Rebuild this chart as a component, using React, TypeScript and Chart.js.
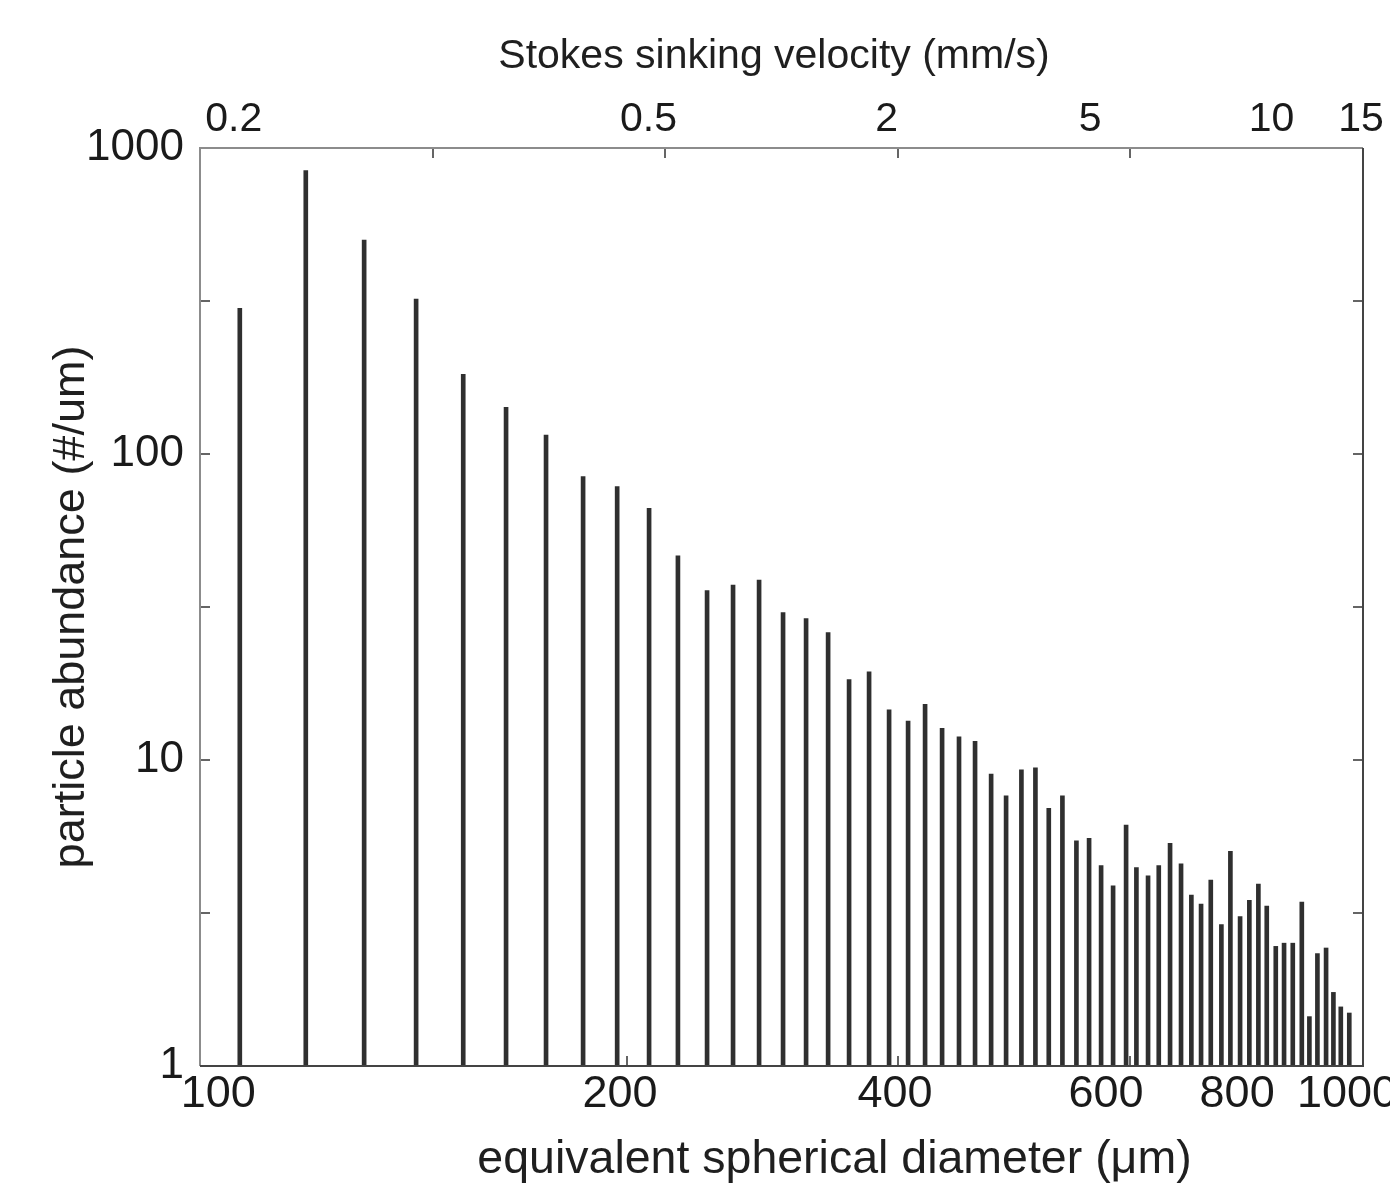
import React, { useEffect, useRef } from 'react';
import { Chart, registerables } from 'chart.js';

Chart.register(...registerables);

// equivalent spherical diameter of each size bin (µm)
const DIAMETERS = [
  108.2, 123.3, 138.4, 153.4, 168.4, 183.3, 198.4, 213.5, 228.4, 243.3,
  257.6, 272.9, 287.3, 302.5, 317.2, 332.0, 346.8, 361.5, 376.1, 391.3,
  406.3, 420.2, 434.6, 449.4, 463.9, 478.9, 493.3, 508.5, 522.8, 536.8,
  551.5, 567.0, 581.4, 595.4, 609.7, 625.6, 638.5, 653.4, 667.4, 682.5,
  697.5, 711.9, 725.7, 739.8, 755.5, 769.1, 784.0, 798.5, 812.9, 826.5,
  841.4, 855.3, 870.2, 885.9, 899.3, 913.7, 929.5, 943.1, 957.0, 973.2,
];

// particle abundance (#/um)
const ABUNDANCE = [
  299, 843, 500, 321, 182, 142, 115.4, 84.3, 78.2, 66.5,
  46.5, 35.8, 37.3, 38.7, 30.3, 29.0, 26.1, 18.3, 19.4, 14.6,
  13.4, 15.2, 12.7, 11.9, 11.5, 9.0, 7.63, 9.28, 9.42, 6.95,
  7.63, 5.44, 5.55, 4.52, 3.88, 6.13, 4.45, 4.18, 4.52, 5.34,
  4.58, 3.62, 3.38, 4.05, 2.90, 5.03, 3.08, 3.48, 3.93, 3.33,
  2.46, 2.52, 2.52, 3.43, 1.45, 2.33, 2.43, 1.74, 1.56, 1.49,
];

// bottom axis: labels and the diameters they sit at, plus tick marks
const BOTTOM_TICK_LABELS = ['100', '200', '400', '600', '800', '1000'];
const BOTTOM_LABEL_AT = [103.7, 229.7, 395.9, 601.2, 779.4, 968.8];
const BOTTOM_TICK_MARKS = [232.8, 398.1, 631.0];

// top axis: Stokes sinking velocity labels and the diameters they sit at
const TOP_TICK_LABELS = ['0.2', '0.5', '2', '5', '10', '15'];
const TOP_LABEL_AT = [106.9, 243.0, 389.4, 582.6, 834.4, 996.0];
const TOP_TICK_MARKS = [158.5, 251.2, 398.1, 631.0];

// y axis
const Y_TICK_LABELS = [1, 10, 100, 1000];
const Y_TICK_MARKS = [3.162, 10, 31.62, 100, 316.2];

const FONT = "'Liberation Sans', Arial, Helvetica, sans-serif";
const W = 1390;
const H = 1192;
const AREA = { left: 200, right: 1363, top: 148, bottom: 1066 };

const framePlugin = {
  id: 'frame',
  afterDraw(chart: any) {
    const { ctx, chartArea: a, scales } = chart;
    const xs = scales.x;
    const xt = scales.x2;
    const ys = scales.y;
    const len = 10;
    ctx.save();
    ctx.strokeStyle = '#333333';
    ctx.lineWidth = 1.5;
    ctx.beginPath();
    Y_TICK_MARKS.forEach((v) => {
      const py = Math.round(ys.getPixelForValue(v));
      ctx.moveTo(a.left, py);
      ctx.lineTo(a.left + len, py);
      ctx.moveTo(a.right, py);
      ctx.lineTo(a.right - len, py);
    });
    TOP_TICK_MARKS.forEach((v) => {
      const px = Math.round(xt.getPixelForValue(v));
      ctx.moveTo(px, a.top);
      ctx.lineTo(px, a.top + len);
    });
    BOTTOM_TICK_MARKS.forEach((v) => {
      const px = Math.round(xs.getPixelForValue(v));
      ctx.moveTo(px, a.bottom);
      ctx.lineTo(px, a.bottom - len);
    });
    ctx.stroke();

    // frame: left/top lighter, bottom/right darker
    ctx.lineWidth = 2;
    ctx.strokeStyle = '#8c8c8c';
    ctx.beginPath();
    ctx.moveTo(a.left, a.bottom);
    ctx.lineTo(a.left, a.top);
    ctx.lineTo(a.right, a.top);
    ctx.stroke();
    ctx.strokeStyle = '#444444';
    ctx.beginPath();
    ctx.moveTo(a.left, a.bottom);
    ctx.lineTo(a.right, a.bottom);
    ctx.lineTo(a.right, a.top);
    ctx.stroke();

    // axis titles placed off-centre as in the reference
    ctx.fillStyle = '#1f1f1f';
    ctx.textAlign = 'center';
    ctx.textBaseline = 'alphabetic';
    ctx.font = `46.5px ${FONT}`;
    ctx.fillText('equivalent spherical diameter (\u03BCm)', 834.5, 1173);
    ctx.font = `41px ${FONT}`;
    ctx.fillText('Stokes sinking velocity (mm/s)', 774, 68);
    ctx.restore();
  },
};

export default function App() {
  const ref = useRef<HTMLCanvasElement | null>(null);

  useEffect(() => {
    if (!ref.current) return;
    const chart = new Chart(ref.current, {
      type: 'bar',
      data: {
        datasets: [
          {
            data: DIAMETERS.map((d, i) => ({ x: d, y: ABUNDANCE[i] })),
            backgroundColor: '#2f2f2f',
            borderWidth: 0,
            barThickness: 4,
            xAxisID: 'x',
            yAxisID: 'y',
          } as any,
        ],
      },
      options: {
        animation: false,
        responsive: false,
        devicePixelRatio: 1,
        layout: { padding: { left: 0, top: 0, right: W - AREA.right, bottom: 0 } },
        plugins: { legend: { display: false }, tooltip: { enabled: false } },
        scales: {
          x: {
            type: 'logarithmic',
            position: 'bottom',
            min: 100,
            max: 1000,
            offset: false,
            grid: { display: false, drawTicks: false },
            border: { display: false },
            afterBuildTicks: (s: any) => {
              s.ticks = BOTTOM_LABEL_AT.map((v) => ({ value: v }));
            },
            afterFit: (s: any) => {
              s.height = H - AREA.bottom;
              s.paddingLeft = 0;
              s.paddingRight = 0;
            },
            ticks: {
              autoSkip: false,
              maxRotation: 0,
              minRotation: 0,
              padding: 2,
              color: '#1a1a1a',
              font: { size: 45, family: FONT },
              callback: (_v: any, i: number) => BOTTOM_TICK_LABELS[i],
            },
          },
          x2: {
            type: 'logarithmic',
            position: 'top',
            min: 100,
            max: 1000,
            offset: false,
            grid: { display: false, drawTicks: false },
            border: { display: false },
            afterBuildTicks: (s: any) => {
              s.ticks = TOP_LABEL_AT.map((v) => ({ value: v }));
            },
            afterFit: (s: any) => {
              s.height = AREA.top;
              s.paddingLeft = 0;
              s.paddingRight = 0;
            },
            ticks: {
              autoSkip: false,
              maxRotation: 0,
              minRotation: 0,
              padding: 4,
              color: '#1a1a1a',
              font: { size: 41, family: FONT },
              callback: (_v: any, i: number) => TOP_TICK_LABELS[i],
            },
          },
          y: {
            type: 'logarithmic',
            position: 'left',
            min: 1,
            max: 1000,
            beginAtZero: false,
            grid: { display: false, drawTicks: false },
            border: { display: false },
            afterBuildTicks: (s: any) => {
              s.ticks = Y_TICK_LABELS.map((v) => ({ value: v }));
            },
            afterFit: (s: any) => {
              s.width = AREA.left;
              s.paddingTop = 0;
              s.paddingBottom = 0;
            },
            ticks: {
              autoSkip: false,
              padding: 16,
              color: '#1a1a1a',
              font: { size: 44, family: FONT },
              callback: (v: any) => String(v),
            },
            title: {
              display: true,
              text: 'particle abundance (#/um)',
              color: '#1f1f1f',
              font: { size: 45, family: FONT },
              padding: { top: 45, bottom: 0 },
            },
          },
        } as any,
      },
      plugins: [framePlugin],
    });
    return () => chart.destroy();
  }, []);

  return (
    <div style={{ position: 'absolute', left: 0, top: 0, width: W, height: H, background: '#ffffff' }}>
      <canvas ref={ref} width={W} height={H} style={{ display: 'block' }} />
    </div>
  );
}
